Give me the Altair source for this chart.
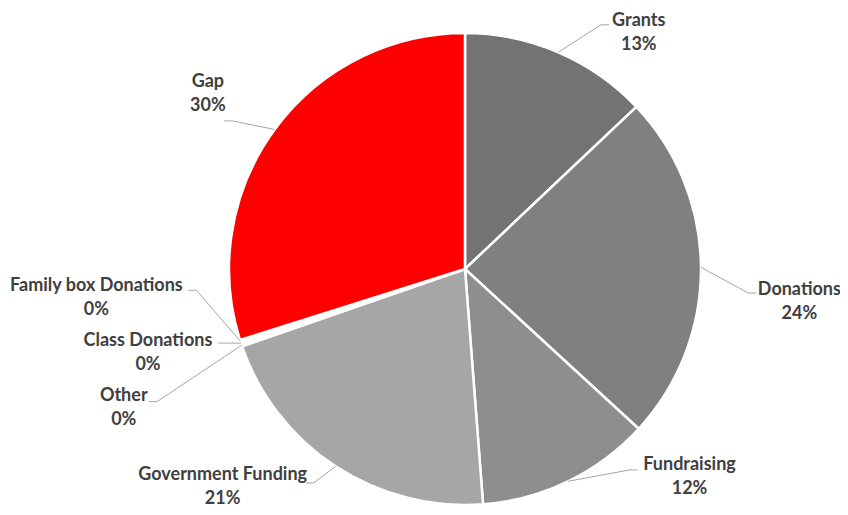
import altair as alt
import pandas as pd

# ---- data ----
categories = ["Grants", "Donations", "Fundraising", "Government Funding",
              "Other", "Class Donations", "Family box Donations", "Gap"]
values = [13, 24, 12, 21, 0.15, 0.15, 0.15, 30]

# ---- styles / layout (kept apart from the data) ----
colors = ["#737373", "#808080", "#8e8e8e", "#a6a6a6",
          "#bdbdbd", "#c9c9c9", "#d4d4d4", "#ff0000"]
label_dtheta = [11.7, 4.0, -23.0, 16.4, -1.5, 5.6, 15.1, -0.2]   # degrees from slice middle
label_radius = [303, 335, 298, 318, 364, 325, 369, 318]          # px from pie centre
leader_dy = [4, 3, 5, 8, 6, 2.5, 4, 39]                           # leader attach offset

CX, CY, R = 457, 261, 236
CHAR_HALF = 4.45
LINE_GAP = 24

df = pd.DataFrame({
    "category": categories,
    "value": values,
    "idx": list(range(len(categories))),
    "dtheta": label_dtheta,
    "lr": label_radius,
    "ady": leader_dy,
})

base = alt.Chart(df).transform_joinaggregate(
    total="sum(value)"
).transform_window(
    cum="sum(value)", sort=[alt.SortField("idx")], frame=[None, 0]
).transform_calculate(
    mid="((datum.cum - datum.value/2)/datum.total)*2*PI",
    pct="format(datum.value/datum.total, '.0%')",
).transform_calculate(
    la="datum.mid + datum.dtheta*PI/180",
    x0=f"{CX} + {R}*sin(datum.mid)",
    y0=f"{CY} - {R}*cos(datum.mid)",
).transform_calculate(
    lx=f"{CX} + datum.lr*sin(datum.la)",
    ly=f"{CY} - datum.lr*cos(datum.la)",
).transform_calculate(
    side=f"datum.lx > {CX} ? 1 : -1",
    ly2=f"datum.ly + {LINE_GAP}",
).transform_calculate(
    x2=f"datum.lx - datum.side*(length(datum.category)*{CHAR_HALF} + 3)",
    y2="datum.ly + datum.ady",
).transform_calculate(
    x1="datum.x2 - datum.side*8",
)

pie = alt.Chart(df).mark_arc(
    outerRadius=R, stroke="white", strokeWidth=2.5
).encode(
    theta=alt.Theta("value:Q", stack=True),
    color=alt.Color("category:N", scale=alt.Scale(domain=categories, range=colors), legend=None),
    order=alt.Order("idx:Q"),
    x=alt.value(CX),
    y=alt.value(CY),
)

lead1 = base.mark_rule(color="#a6a6a6", strokeWidth=1).encode(
    x=alt.X("x0:Q", scale=None, axis=None),
    y=alt.Y("y0:Q", scale=None, axis=None),
    x2="x1:Q",
    y2="y2:Q",
)
lead2 = base.mark_rule(color="#a6a6a6", strokeWidth=1).encode(
    x=alt.X("x1:Q", scale=None, axis=None),
    y=alt.Y("y2:Q", scale=None, axis=None),
    x2="x2:Q",
    y2="y2:Q",
)

txt_style = dict(font="Lato", fontSize=18, fontWeight="bold", color="#404040",
                 align="center", baseline="middle")
name_text = base.mark_text(**txt_style).encode(
    x=alt.X("lx:Q", scale=None, axis=None),
    y=alt.Y("ly:Q", scale=None, axis=None),
    text="category:N",
)
pct_text = base.mark_text(**txt_style).encode(
    x=alt.X("lx:Q", scale=None, axis=None),
    y=alt.Y("ly2:Q", scale=None, axis=None),
    text="pct:N",
)

chart = alt.layer(pie, lead1, lead2, name_text, pct_text).properties(
    width=832, height=499, padding=0, autosize="none"
).configure_view(stroke=None)

chart.save("out.html", embed_options={"renderer": "svg", "actions": False})
